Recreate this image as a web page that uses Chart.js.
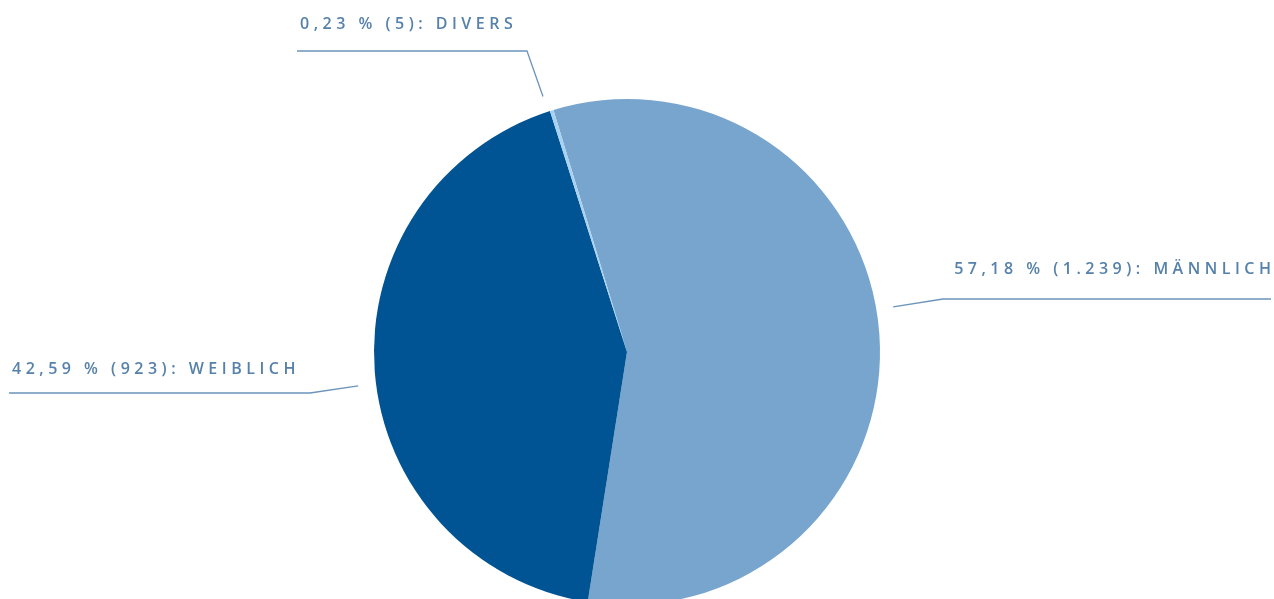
<!DOCTYPE html>
<html lang="de">
<head>
<meta charset="utf-8">
<title>Geschlecht</title>
<script src="https://cdn.jsdelivr.net/npm/chart.js@4"></script>
<style>
  html, body { margin: 0; padding: 0; background: #fff; overflow: hidden; }
  #wrap { position: relative; width: 1274px; height: 612px; }
</style>
</head>
<body>
<div id="wrap"><canvas id="chart"></canvas></div>
<script>
/* ── Daten ──────────────────────────────────────────── */
const kategorien = ['männlich', 'weiblich', 'divers'];
const anzahl     = [1239, 923, 5];
const farben     = ['#78a5ce', '#005493', '#a9d1f0'];

const gesamt = anzahl.reduce((a, b) => a + b, 0);
const fmtPct = n => (n / gesamt * 100).toLocaleString('de-DE', {minimumFractionDigits: 2, maximumFractionDigits: 2});
const fmtInt = n => n.toLocaleString('de-DE');

/* ── Beschriftungen mit Führungslinien ──────────────── */
// Lage der Linien relativ zur Kreismitte: Ansatz (Winkel in Grad ab 12 Uhr, Abstand über dem Rand),
// Knick und Ende der Waagerechten, dazu Textausrichtung
const layout = [
  { angle: 80.4,  gap: 17, knee: [316, -53],  end: [644, -53],  align: 'right', textDy: -25 },
  { angle: 262.8, gap: 18, knee: [-317, 41],  end: [-618, 41],  align: 'left',  textDy: -19 },
  { angle: -18.2, gap: 16, knee: [-100, -301], end: [-330, -301], align: 'left', textDy: -22 },
];

const leaderLabels = {
  id: 'leaderLabels',
  afterDatasetsDraw(chart) {
    const { ctx } = chart;
    const arc = chart.getDatasetMeta(0).data[0];
    const cx = arc.x, cy = arc.y, r = arc.outerRadius;
    ctx.save();
    ctx.strokeStyle = '#6b94ba';
    ctx.lineWidth = 1.3;
    ctx.fillStyle = '#5681aa';
    ctx.font = '600 16px "Open Sans", sans-serif';
    ctx.letterSpacing = '4.5px';
    ctx.textBaseline = 'alphabetic';
    layout.forEach((l, i) => {
      const a = l.angle * Math.PI / 180;
      const sx = cx + Math.sin(a) * (r + l.gap);
      const sy = cy - Math.cos(a) * (r + l.gap);
      const kx = cx + l.knee[0], ky = cy + l.knee[1];
      const ex = cx + l.end[0],  ey = cy + l.end[1];
      ctx.beginPath();
      ctx.moveTo(sx, sy);
      ctx.lineTo(kx, ky);
      ctx.lineTo(ex, ey);
      ctx.stroke();

      const txt = `${fmtPct(anzahl[i])} % (${fmtInt(anzahl[i])}): ${kategorien[i].toUpperCase()}`;
      ctx.textAlign = l.align;
      // bei rechtsbündigem Text hängt der letzte Buchstabenabstand hinten dran
      const tx = l.align === 'right' ? ex + 4.5 : ex + 3;
      ctx.fillText(txt, tx, ey + l.textDy);
    });
    ctx.restore();
  }
};

/* ── Diagramm ───────────────────────────────────────── */
new Chart(document.getElementById('chart'), {
  type: 'pie',
  data: {
    labels: kategorien,
    datasets: [{
      data: anzahl,
      backgroundColor: farben,
      borderWidth: 0,
    }],
  },
  options: {
    responsive: true,
    maintainAspectRatio: false,
    animation: false,
    rotation: -16.9,
    layout: { padding: { top: 99, bottom: 7, left: 0, right: 20 } },
    plugins: {
      legend: { display: false },
      tooltip: { enabled: false },
    },
  },
  plugins: [leaderLabels],
});
</script>
</body>
</html>
